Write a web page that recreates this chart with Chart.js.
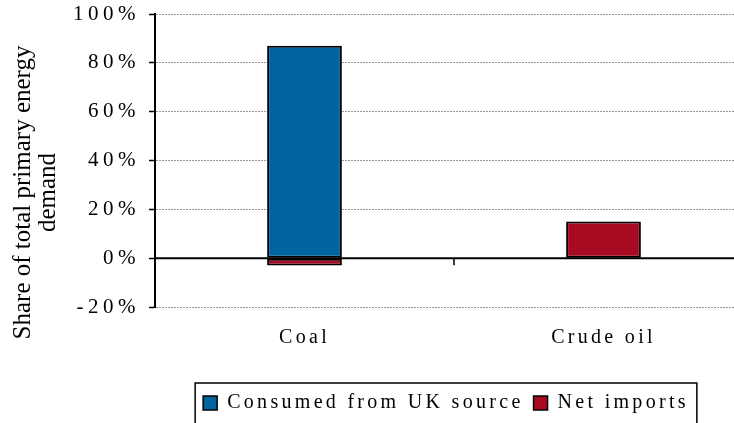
<!DOCTYPE html>
<html>
<head>
<meta charset="utf-8">
<script src="https://cdn.jsdelivr.net/npm/chart.js@4/dist/chart.umd.min.js"></script>
<style>
  html, body { margin: 0; padding: 0; background: #fff; }
  #wrap { width: 734px; height: 423px; overflow: hidden; position: relative; }
  canvas { display: block; }
</style>
</head>
<body>
<div id="wrap"><canvas id="c" width="770" height="423"></canvas></div>
<script>
// Fuel categories and their share of total primary energy demand (%)
const categories = ['Coal', 'Crude oil'];
const consumedFromUK = [87, null];
const netImports = [-3, 15];
const yTicks = [-20, 0, 20, 40, 60, 80, 100];
const yTitle = ['Share of total primary energy', 'demand'];

const SERIF = '"Liberation Serif", "DejaVu Serif", serif';
const TEXT_SPACING = '3.3px';   // category labels and legend
const TICK_SPACING = '4.5px';   // percentage tick labels
const LEGEND_SHIFT = -8;        // legend sits slightly left of the plot centre

// Wide tracking for axis and legend text
const spacingPlugin = {
  id: 'spacing',
  beforeUpdate(chart) { chart.ctx.letterSpacing = TEXT_SPACING; },
  beforeDraw(chart) { chart.ctx.letterSpacing = TEXT_SPACING; }
};

// Solid zero line with category divider ticks, legend frame and axis title
const extrasPlugin = {
  id: 'extras',
  afterLayout(chart) {
    const lg = chart.legend;
    if (lg) {
      lg.left += LEGEND_SHIFT;
      lg.right += LEGEND_SHIFT;
    }
  },
  afterDatasetsDraw(chart) {
    const { ctx, chartArea, scales } = chart;
    const y0 = scales.y.getPixelForValue(0);
    ctx.save();
    ctx.strokeStyle = '#000';
    ctx.lineWidth = 2;
    ctx.beginPath();
    ctx.moveTo(chartArea.left, y0);
    ctx.lineTo(chartArea.right, y0);
    ctx.stroke();
    ctx.lineWidth = 1.5;
    for (let i = 0; i < categories.length - 1; i++) {
      const xb = (scales.x.getPixelForTick(i) + scales.x.getPixelForTick(i + 1)) / 2;
      ctx.beginPath();
      ctx.moveTo(xb, y0);
      ctx.lineTo(xb, y0 + 7);
      ctx.stroke();
    }
    ctx.restore();
  },
  afterDraw(chart) {
    const { ctx, chartArea } = chart;
    const boxes = chart.legend.legendHitBoxes;
    if (boxes && boxes.length) {
      const left = Math.min(...boxes.map(b => b.left)) - 8;
      const right = Math.max(...boxes.map(b => b.left + b.width)) + 8;
      const top = boxes[0].top - 10;
      ctx.save();
      ctx.strokeStyle = '#000';
      ctx.lineWidth = 1.5;
      ctx.strokeRect(left, top, right - left, 60);
      ctx.restore();
    }
    ctx.save();
    ctx.letterSpacing = '0px';
    ctx.fillStyle = '#000';
    ctx.font = '25px ' + SERIF;
    ctx.textAlign = 'center';
    ctx.textBaseline = 'alphabetic';
    const cy = (chartArea.top + chartArea.bottom) / 2 + 32;
    ctx.translate(0, cy);
    ctx.rotate(-Math.PI / 2);
    ctx.fillText(yTitle[0], 0, 30);
    ctx.fillText(yTitle[1], 0, 55);
    ctx.restore();
  }
};

new Chart(document.getElementById('c'), {
  type: 'bar',
  data: {
    labels: categories,
    datasets: [
      {
        label: 'Consumed from UK source',
        data: consumedFromUK,
        backgroundColor: '#0064A0',
        borderColor: '#000',
        borderWidth: 2,
        borderSkipped: false
      },
      {
        label: 'Net imports',
        data: netImports,
        backgroundColor: '#A80A22',
        borderColor: '#000',
        borderWidth: 2,
        borderSkipped: false
      }
    ]
  },
  options: {
    responsive: false,
    animation: false,
    events: [],
    layout: { padding: { left: 60, right: 17, top: 0, bottom: 0 } },
    datasets: { bar: { categoryPercentage: 1, barPercentage: 0.25 } },
    plugins: {
      tooltip: { enabled: false },
      legend: {
        position: 'bottom',
        fullSize: false,
        labels: {
          color: '#000',
          font: { family: SERIF, size: 20 },
          boxWidth: 14,
          boxHeight: 14,
          padding: 10,
          generateLabels(chart) {
            return chart.data.datasets.map((ds, i) => ({
              text: ds.label,
              fillStyle: ds.backgroundColor,
              strokeStyle: '#000',
              lineWidth: 1.5,
              datasetIndex: i
            }));
          }
        }
      }
    },
    scales: {
      x: {
        stacked: true,
        grid: { display: false, drawTicks: false },
        border: { display: false },
        ticks: { color: '#000', font: { family: SERIF, size: 20 }, padding: 19 },
        afterFit(scale) { scale.height = 76; }
      },
      y: {
        stacked: true,
        min: yTicks[0],
        max: yTicks[yTicks.length - 1],
        afterBuildTicks(scale) { scale.ticks = yTicks.map(v => ({ value: v })); },
        grid: {
          color: '#9a9a9a',
          lineWidth: 1,
          tickColor: '#000',
          tickLength: 6,
          tickWidth: 1.5
        },
        border: { color: '#000', width: 2, dash: [2, 1] },
        ticks: {
          color: '#000',
          font: { family: SERIF, size: 21, lineHeight: 1 },
          padding: 9,
          callback: v => v + '%'
        },
        afterFit(scale) {
          scale.width = 95;
          scale.paddingTop = 14;
          scale.paddingBottom = 12;
          if (!scale._trackedLabels) {
            const drawLabels = scale.drawLabels;
            scale.drawLabels = function (area) {
              const c = this.ctx;
              const prev = c.letterSpacing;
              c.letterSpacing = TICK_SPACING;
              drawLabels.call(this, area);
              c.letterSpacing = prev;
            };
            scale._trackedLabels = true;
          }
        }
      }
    }
  },
  plugins: [spacingPlugin, extrasPlugin]
});
</script>
</body>
</html>
